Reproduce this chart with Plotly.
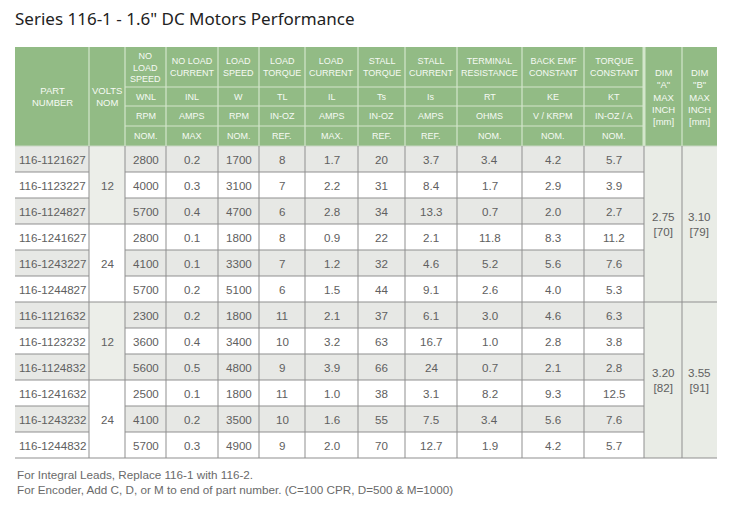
import plotly.graph_objects as go

# ---------------- data ----------------
title_text = 'Series 116-1 - 1.6" DC Motors Performance'

part_numbers = ["116-1121627", "116-1123227", "116-1124827", "116-1241627", "116-1243227", "116-1244827",
                "116-1121632", "116-1123232", "116-1124832", "116-1241632", "116-1243232", "116-1244832"]
volts_groups = [12, 24, 12, 24]          # each spans 3 rows
wnl = [2800, 4000, 5700, 2800, 4100, 5700, 2300, 3600, 5600, 2500, 4100, 5700]
inl = [0.2, 0.3, 0.4, 0.1, 0.1, 0.2, 0.2, 0.4, 0.5, 0.1, 0.2, 0.3]
w_load = [1700, 3100, 4700, 1800, 3300, 5100, 1800, 3400, 4800, 1800, 3500, 4900]
tl = [8, 7, 6, 8, 7, 6, 11, 10, 9, 11, 10, 9]
il = [1.7, 2.2, 2.8, 0.9, 1.2, 1.5, 2.1, 3.2, 3.9, 1.0, 1.6, 2.0]
ts = [20, 31, 34, 22, 32, 44, 37, 63, 66, 38, 55, 70]
is_stall = [3.7, 8.4, 13.3, 2.1, 4.6, 9.1, 6.1, 16.7, 24, 3.1, 7.5, 12.7]
rt = [3.4, 1.7, 0.7, 11.8, 5.2, 2.6, 3.0, 1.0, 0.7, 8.2, 3.4, 1.9]
ke = [4.2, 2.9, 2.0, 8.3, 5.6, 4.0, 4.6, 2.8, 2.1, 9.3, 5.6, 4.2]
kt = [5.7, 3.9, 2.7, 11.2, 7.6, 5.3, 6.3, 3.8, 2.8, 12.5, 7.6, 5.7]
dim_a = ["2.75<br>[70]", "3.20<br>[82]"]   # each spans 6 rows
dim_b = ["3.10<br>[79]", "3.55<br>[91]"]

head_names = ["NO<br>LOAD<br>SPEED", "NO LOAD<br>CURRENT", "LOAD<br>SPEED", "LOAD<br>TORQUE",
              "LOAD<br>CURRENT", "STALL<br>TORQUE", "STALL<br>CURRENT", "TERMINAL<br>RESISTANCE",
              "BACK EMF<br>CONSTANT", "TORQUE<br>CONSTANT"]
head_symbols = ["WNL", "INL", "W", "TL", "IL", "Ts", "Is", "RT", "KE", "KT"]
head_units = ["RPM", "AMPS", "RPM", "IN-OZ", "AMPS", "IN-OZ", "AMPS", "OHMS", "V / KRPM", "IN-OZ / A"]
head_quals = ["NOM.", "MAX", "NOM.", "REF.", "MAX.", "REF.", "REF.", "NOM.", "NOM.", "NOM."]
head_part = "PART<br>NUMBER"
head_volts = "VOLTS<br>NOM"
head_dims = ['DIM<br>"A"<br>MAX<br>INCH<br>[mm]', 'DIM<br>"B"<br>MAX<br>INCH<br>[mm]']

footnotes = ["For Integral Leads, Replace 116-1 with 116-2.",
             "For Encoder, Add C, D, or M to end of part number. (C=100 CPR, D=500 & M=1000)"]

data_cols = [wnl, inl, w_load, tl, il, ts, is_stall, rt, ke, kt]

# ---------------- layout / style ----------------
W, H = 750, 507
PAGE_OFF = 8   # default page margin of the html body
col_edges = [15, 89, 125, 166, 218, 259, 305, 358, 405, 457, 522, 584, 644, 682, 717]
head_top = 47
head_rows = [47, 87, 106, 126, 146]
body_top = 146
row_h = 26
n_rows = len(part_numbers)
body_bot = body_top + row_h * n_rows

GREEN = "#92bb85"
HEAD_LINE = "#d3e6cb"
GRAY = "#e7e8e5"
GROUP_GRAY = "#eceee9"
DIM_FILL = "#e9ece6"
LINE = "#8f8f8f"
TXT = "#606060"
HTXT = "#f6faf4"
FONT = "Liberation Sans, Arial, sans-serif"

shapes = []
ann = []


def rect(x0, x1, y0, y1, fill):
    shapes.append(dict(type="rect", xref="x", yref="y", x0=x0, x1=x1, y0=y0, y1=y1,
                       fillcolor=fill, line=dict(width=0), layer="below"))


def line(x0, y0, x1, y1, color, width=1):
    shapes.append(dict(type="line", xref="x", yref="y", x0=x0, x1=x1, y0=y0, y1=y1,
                       line=dict(color=color, width=width), layer="below"))


def text(x, y, s, size=11.5, color=TXT, anchor="center", family=FONT):
    ann.append(dict(x=x, y=y, xref="x", yref="y", text=s, showarrow=False,
                    xanchor=anchor, yanchor="middle", align="center",
                    font=dict(size=size, color=color, family=family)))


def ycen(i):
    return body_top + row_h * (i + 0.5)


def xcen(c):
    return (col_edges[c] + col_edges[c + 1]) / 2


# header background
rect(col_edges[0], col_edges[-1], head_top, body_top, GREEN)
# header vertical separators
for c in range(1, len(col_edges) - 1):
    wdt = 3 if c == 12 else 1.2
    line(col_edges[c], head_top, col_edges[c], body_top, HEAD_LINE, wdt)
# header horizontal separators for data columns
for y in head_rows[1:4]:
    line(col_edges[2], y, col_edges[12], y, HEAD_LINE, 1.2)

# header texts
hy_mid = (head_top + body_top) / 2
text(xcen(0), hy_mid, head_part, 9.5, HTXT)
text(xcen(1), hy_mid, head_volts, 9.5, HTXT)
for k in range(10):
    c = k + 2
    text(xcen(c), (head_rows[0] + head_rows[1]) / 2, head_names[k], 9, HTXT)
    text(xcen(c), (head_rows[1] + head_rows[2]) / 2, head_symbols[k], 9, HTXT)
    text(xcen(c), (head_rows[2] + head_rows[3]) / 2, head_units[k], 9, HTXT)
    text(xcen(c), (head_rows[3] + head_rows[4]) / 2, head_quals[k], 9, HTXT)
for k in range(2):
    text(xcen(12 + k), hy_mid, head_dims[k], 9.5, HTXT)

# body backgrounds
for i in range(n_rows):
    y0, y1 = body_top + row_h * i, body_top + row_h * (i + 1)
    if i % 2 == 0:
        rect(col_edges[0], col_edges[1], y0, y1, GRAY)
        rect(col_edges[2], col_edges[12], y0, y1, GRAY)
for g in range(len(volts_groups)):
    y0, y1 = body_top + row_h * 3 * g, body_top + row_h * 3 * (g + 1)
    if g % 2 == 0:
        rect(col_edges[1], col_edges[2], y0, y1, GROUP_GRAY)
rect(col_edges[12], col_edges[14], body_top, body_bot, DIM_FILL)

# body horizontal lines
for i in range(1, n_rows + 1):
    y = body_top + row_h * i
    if i == n_rows or i == 6:
        line(col_edges[0], y, col_edges[-1], y, LINE)
    elif i % 3 == 0:
        line(col_edges[0], y, col_edges[12], y, LINE)
    else:
        line(col_edges[0], y, col_edges[1], y, LINE)
        line(col_edges[2], y, col_edges[12], y, LINE)
line(col_edges[0], body_top, col_edges[-1], body_top, "#c9d6c3")
# body vertical lines
for c in range(1, len(col_edges) - 1):
    line(col_edges[c], body_top, col_edges[c], body_bot, LINE)

# body texts
for i in range(n_rows):
    text(col_edges[0] + 2, ycen(i), part_numbers[i], 11.6, TXT, anchor="left")
    for k, col in enumerate(data_cols):
        text(xcen(k + 2), ycen(i), str(col[i]), 11.6, TXT)
for g, v in enumerate(volts_groups):
    text(xcen(1), body_top + row_h * (3 * g + 1.5), str(v), 11.6, TXT)
for g in range(2):
    yc = body_top + row_h * (6 * g + 3)
    text(xcen(12), yc, dim_a[g], 11.6, TXT)
    text(xcen(13), yc, dim_b[g], 11.6, TXT)

# title & footnotes
text(13, 18, title_text, 17, "#222222", anchor="left", family="Noto Sans, Open Sans, sans-serif")
text(15, 474, footnotes[0], 11.7, "#6a6a6a", anchor="left")
text(15, 489, footnotes[1], 11.7, "#6a6a6a", anchor="left")

fig = go.Figure()
fig.add_trace(go.Scatter(x=[PAGE_OFF, W], y=[PAGE_OFF, H], mode="markers", marker=dict(opacity=0),
                         hoverinfo="skip", showlegend=False))
fig.update_layout(
    width=W - PAGE_OFF, height=H - PAGE_OFF, autosize=False,
    margin=dict(l=0, r=0, t=0, b=0),
    paper_bgcolor="white", plot_bgcolor="white",
    xaxis=dict(range=[PAGE_OFF, W], visible=False, fixedrange=True),
    yaxis=dict(range=[H, PAGE_OFF], visible=False, fixedrange=True),
    shapes=shapes, annotations=ann, showlegend=False,
)
fig.write_html("out.html", config=dict(displayModeBar=False))
